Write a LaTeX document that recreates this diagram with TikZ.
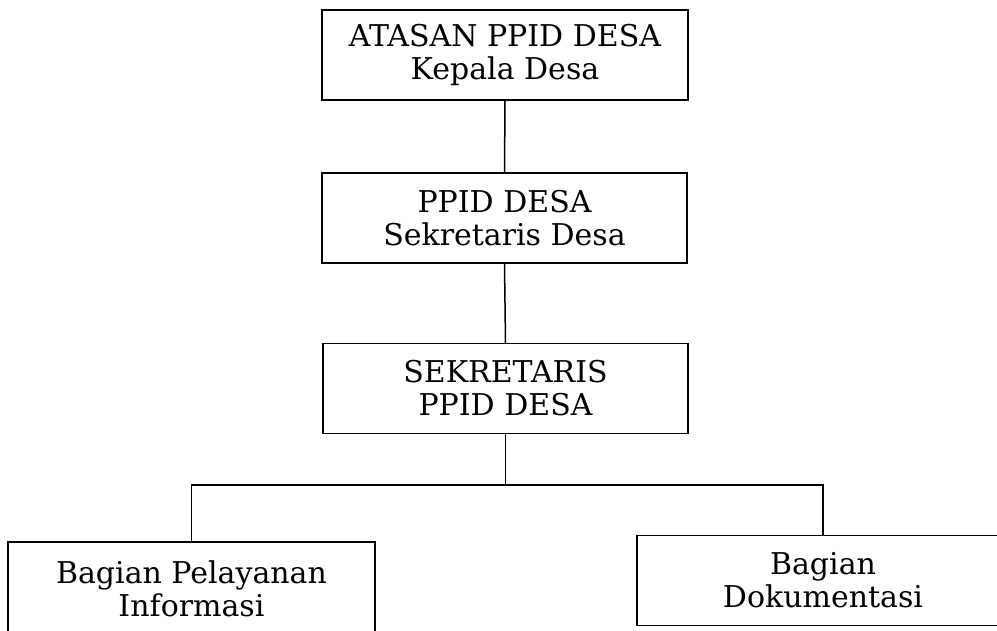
\documentclass[tikz,border=0pt]{standalone}
\usepackage{fontspec}
\setmainfont{DejaVu Serif}
\begin{document}
\begin{tikzpicture}[x=1pt,y=-1pt,
  box/.style={draw,line width=1.5pt,rectangle,minimum width=#1,minimum height=90pt,
    inner sep=0pt,align=center,font=\fontsize{30}{33}\selectfont},
  conn/.style={line width=1.5pt}]
\clip (0,0) rectangle (997,630);
\fill[white] (0,0) rectangle (997,630);
\node[box=366pt] (b1) at (505,55) {ATASAN PPID DESA\\Kepala Desa};
\node[box=365pt] (b2) at (504.5,218) {PPID DESA\\Sekretaris Desa};
\node[box=365pt] (b3) at (505.5,388.5) {SEKRETARIS\\PPID DESA};
\node[box=367pt, minimum height=93pt] (b4) at (191.5,588.5) {Bagian Pelayanan\\Informasi};
\node[box=372pt] (b5) at (823,580.5) {Bagian\\Dokumentasi};
\coordinate (j) at (b3.south |- 0,485);
\draw[conn] (b1.south) -- (b2.north);
\draw[conn] (b2.south) -- (b3.north);
\draw[conn] (b3.south) -- (j);
\draw[conn] (j) -| (b4.north);
\draw[conn] (j) -| (b5.north);
\end{tikzpicture}
\end{document}
